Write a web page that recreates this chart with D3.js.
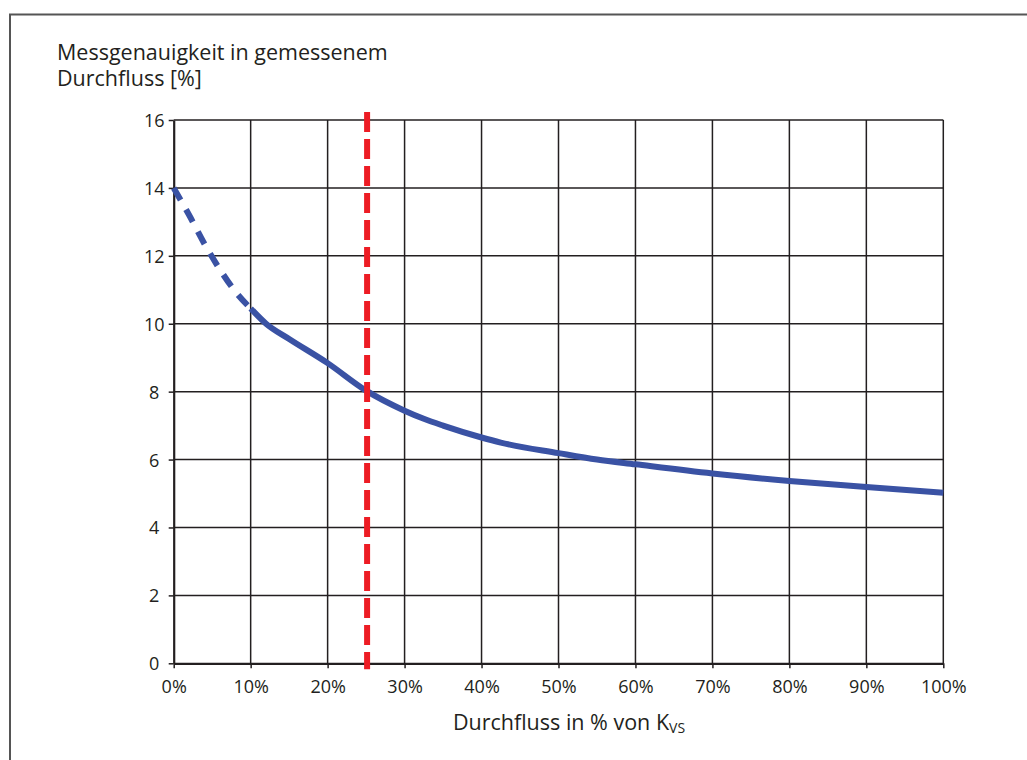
<!DOCTYPE html>
<html>
<head>
<meta charset="utf-8">
<script src="https://cdn.jsdelivr.net/npm/d3@7"></script>
<style>
  body { margin: 0; background: #fff; }
  text { font-family: "Open Sans", sans-serif; fill: #231f20; }
</style>
</head>
<body>
<svg width="1027" height="760"></svg>
<script>
// Data
var xTicks = [0, 10, 20, 30, 40, 50, 60, 70, 80, 90, 100];
var yTicks = [0, 2, 4, 6, 8, 10, 12, 14, 16];

// Durchfluss in % von Kvs  /  Messgenauigkeit [%]
var flowPct  = [0, 2, 4, 6, 8, 10, 12, 15, 20, 25, 30, 32.5, 35, 40, 42.5, 50, 55, 60, 70, 80, 90, 100];
var accuracy = [14.0, 13.2, 12.35, 11.6, 10.95, 10.45, 10.0, 9.55, 8.84, 8.03, 7.44, 7.2, 7.0, 6.65, 6.5, 6.19, 6.0, 5.86, 5.59, 5.37, 5.19, 5.02];
var dashedUntil = 10;   // below 10 % the curve is dashed
var kvsMarker = 25;     // red dashed marker

var svg = d3.select("svg"),
  width = +svg.attr("width"),
  height = +svg.attr("height");

// outer frame
svg.append("rect")
  .attr("x", 10).attr("y", 14.5)
  .attr("width", 1040).attr("height", 780)
  .attr("fill", "none")
  .attr("stroke", "#555")
  .attr("stroke-width", 2);

var margin = { left: 173.7, right: 943.3, top: 120, bottom: 663.3 };

var x = d3.scaleLinear().domain([0, 100]).range([margin.left, margin.right]);
var y = d3.scaleLinear().domain([0, 16]).range([margin.bottom, margin.top]);

// grid
var grid = svg.append("g").attr("stroke", "#231f20").attr("stroke-width", 1.5);
grid.selectAll("line.v")
  .data(xTicks.slice(1))
  .enter().append("line")
  .attr("class", "v")
  .attr("x1", function (d) { return x(d); })
  .attr("x2", function (d) { return x(d); })
  .attr("y1", y(16)).attr("y2", y(0));
grid.selectAll("line.h")
  .data(yTicks.slice(1))
  .enter().append("line")
  .attr("class", "h")
  .attr("x1", x(0)).attr("x2", x(100))
  .attr("y1", function (d) { return y(d); })
  .attr("y2", function (d) { return y(d); });

// axes
var xAxis = svg.append("g")
  .attr("transform", "translate(0," + y(0) + ")")
  .call(d3.axisBottom(x).tickValues(xTicks).tickSize(5).tickSizeOuter(0)
    .tickFormat(function (d) { return d + "%"; }));
var yAxis = svg.append("g")
  .attr("transform", "translate(" + x(0) + ",0)")
  .call(d3.axisLeft(y).tickValues(yTicks).tickSize(5).tickSizeOuter(0));

[xAxis, yAxis].forEach(function (a) {
  a.select(".domain").attr("stroke", "#231f20").attr("stroke-width", 2.2);
  a.selectAll(".tick line").attr("stroke", "#231f20").attr("stroke-width", 1.5);
  a.selectAll(".tick text")
    .attr("fill", "#231f20")
    .style("font-family", "'Open Sans', sans-serif")
    .style("font-size", "18px");
});
xAxis.selectAll(".tick text").attr("dy", null).attr("y", 30);
yAxis.selectAll(".tick text")
  .attr("text-anchor", "middle")
  .attr("x", -19.5)
  .attr("dy", "0.36em");

// curve
var points = flowPct.map(function (d, i) { return [d, accuracy[i]]; });
var line = d3.line()
  .x(function (d) { return x(d[0]); })
  .y(function (d) { return y(d[1]); })
  .curve(d3.curveMonotoneX);

svg.append("path")
  .datum(points.filter(function (d) { return d[0] <= dashedUntil; }))
  .attr("d", line)
  .attr("fill", "none")
  .attr("stroke", "#3a52a4")
  .attr("stroke-width", 6)
  .attr("stroke-dasharray", "14,11");

svg.append("path")
  .datum(points.filter(function (d) { return d[0] >= dashedUntil; }))
  .attr("d", line)
  .attr("fill", "none")
  .attr("stroke", "#3a52a4")
  .attr("stroke-width", 6);

// red dashed marker
svg.append("line")
  .attr("x1", x(kvsMarker) + 1).attr("x2", x(kvsMarker) + 1)
  .attr("y1", y(16) - 8).attr("y2", y(0) + 6)
  .attr("stroke", "#ed1c24")
  .attr("stroke-width", 6)
  .attr("stroke-dasharray", "20,7");

// titles
var yTitle = svg.append("text")
  .style("font-size", "21.5px");
yTitle.append("tspan").attr("x", 57).attr("y", 60).text("Messgenauigkeit in gemessenem");
yTitle.append("tspan").attr("x", 57).attr("y", 86).text("Durchfluss [%]");

var xTitle = svg.append("text")
  .attr("x", 569).attr("y", 730)
  .attr("text-anchor", "middle")
  .style("font-size", "21.5px");
xTitle.append("tspan").text("Durchfluss in % von K");
xTitle.append("tspan").attr("dy", 3).style("font-size", "14px").text("VS");
</script>
</body>
</html>
